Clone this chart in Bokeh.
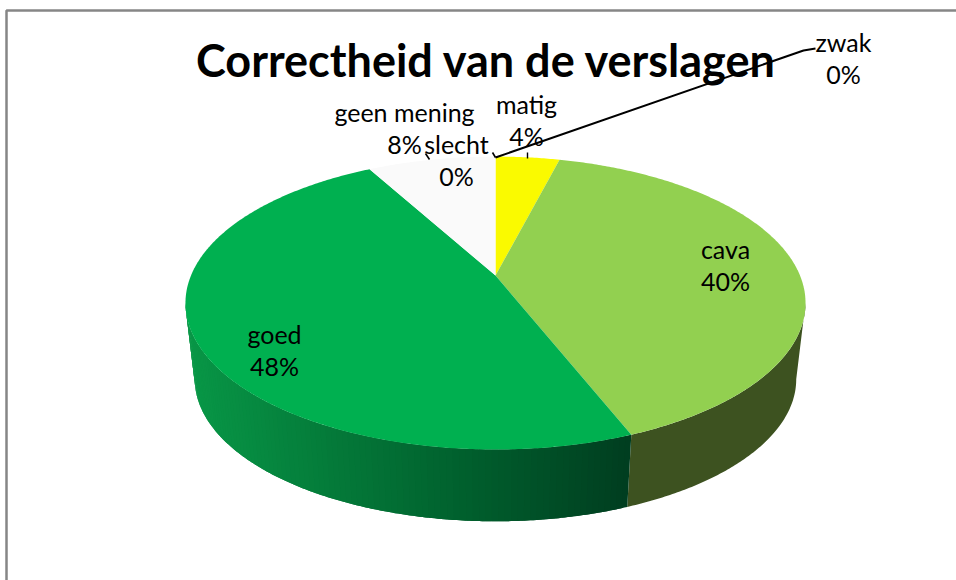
import math
from bokeh.plotting import figure
from bokeh.embed import file_html
from bokeh.resources import INLINE
from bokeh.core.properties import value

# --- chart data, clockwise from twelve o'clock
categories = ["slecht", "zwak", "matig", "cava", "goed", "geen mening"]
values = [0, 0, 4, 40, 48, 8]
colors = ["#FF0000", "#FFC000", "#FAFA00", "#92D050", "#00B050", "#FAFAFA"]
side_colors = {"cava": "#3D5220"}
title_text = "Correctheid van de verslagen"

# label centres in page pixels, per category
label_pos = {
    "slecht": (456, 159), "zwak": (843, 57), "matig": (526, 119),
    "cava": (725, 264), "goed": (274, 349), "geen mening": (404, 127),
}

# --- layout of the projected disc
W, H = 956, 580
CX, TOP_Y = 495, 275
A, B, K = 304.5, 141.3, 0.188
BOT_Y, BOT_SCALE = 352, 0.97
GRAD_X = [190, 470, 631]
GRAD_RGB = [(8, 150, 70), (0, 95, 45), (0, 62, 32)]


def project(theta_deg, ay=TOP_Y, scale=1.0, r=1.0):
    t = math.radians(theta_deg)
    u, v = r * math.sin(t), r * math.cos(t)
    d = 1 + K * v
    return CX + scale * A * u / d, ay - scale * B * v / d


def grad(x):
    if x <= GRAD_X[1]:
        f = max(0, (x - GRAD_X[0]) / (GRAD_X[1] - GRAD_X[0]))
        a, b = GRAD_RGB[0], GRAD_RGB[1]
    else:
        f = min(1, (x - GRAD_X[1]) / (GRAD_X[2] - GRAD_X[1]))
        a, b = GRAD_RGB[1], GRAD_RGB[2]
    c = [round(a[i] + (b[i] - a[i]) * f) for i in range(3)]
    return "#%02X%02X%02X" % tuple(c)


def rim_patch(t0, t1, fill):
    m = max(2, int((t1 - t0) * 2))
    top = [project(t0 + (t1 - t0) * j / m) for j in range(m + 1)]
    bot = [project(t0 + (t1 - t0) * j / m, BOT_Y, BOT_SCALE) for j in range(m + 1)]
    p.patch([q[0] for q in top] + [q[0] for q in reversed(bot)],
            [q[1] for q in top] + [q[1] for q in reversed(bot)],
            fill_color=fill, line_color=None)


p = figure(width=W, height=H, x_range=(0, W), y_range=(H, 0),
           output_backend="svg", toolbar_location=None,
           min_border=0, outline_line_color=None)
p.xaxis.visible = False
p.yaxis.visible = False
p.grid.visible = False
p.background_fill_color = "white"
p.border_fill_color = "white"

# chart-area frame
p.line([6, 6, W], [H, 10, 10], line_color="#868686", line_width=2.5)

# slice angles
total = sum(values)
spans, acc = {}, 0.0
for c, v in zip(categories, values):
    spans[c] = (acc, acc + 360 * v / total)
    acc += 360 * v / total

# rim: front half only, between the two silhouette tangents
tangent = math.degrees(math.acos(-K))
for c, (a0, a1) in spans.items():
    if a1 <= a0:
        continue
    lo, hi = max(a0, tangent), min(a1, 360 - tangent)
    if hi <= lo:
        continue
    if c in side_colors:
        rim_patch(lo, hi, side_colors[c])
        continue
    # gradient strips; each overlaps the next, so no seams show between them
    n = max(1, int(hi - lo))
    for i in range(n):
        t0 = lo + (hi - lo) * i / n
        t1 = min(hi, lo + (hi - lo) * (i + 2) / n)
        rim_patch(t0, t1, grad(project(t0)[0]))

# top face
for c, col in zip(categories, colors):
    a0, a1 = spans[c]
    if a1 <= a0:
        continue
    n = max(2, int(a1 - a0) * 2)
    pts = [project(a0 + (a1 - a0) * i / n) for i in range(n + 1)]
    p.patch([CX] + [q[0] for q in pts], [TOP_Y] + [q[1] for q in pts],
            fill_color=col, line_color=None)

# leader lines
p.line([495, 803, 815], [157, 50, 48], line_color="black", line_width=2)
p.line([492, 495], [152, 157], line_color="black", line_width=1.6)
p.line([425, 429], [153, 159], line_color="black", line_width=1.6)
p.line([527, 527], [152, 158], line_color="black", line_width=1.4)

# labels
for c, v in zip(categories, values):
    x, y = label_pos[c]
    pct = round(100 * v / total)
    p.text([x, x], [y - 16, y + 16], text=[c, f"{pct}%"],
           text_font=value("Lato"), text_font_size="25px", text_color="black",
           text_align="center", text_baseline="middle")

p.text([486], [59], text=[title_text], text_font=value("Lato"),
       text_font_size="45px", text_font_style="bold", text_color="black",
       text_align="center", text_baseline="middle")

open("out.html", "w").write(file_html(p, INLINE))
